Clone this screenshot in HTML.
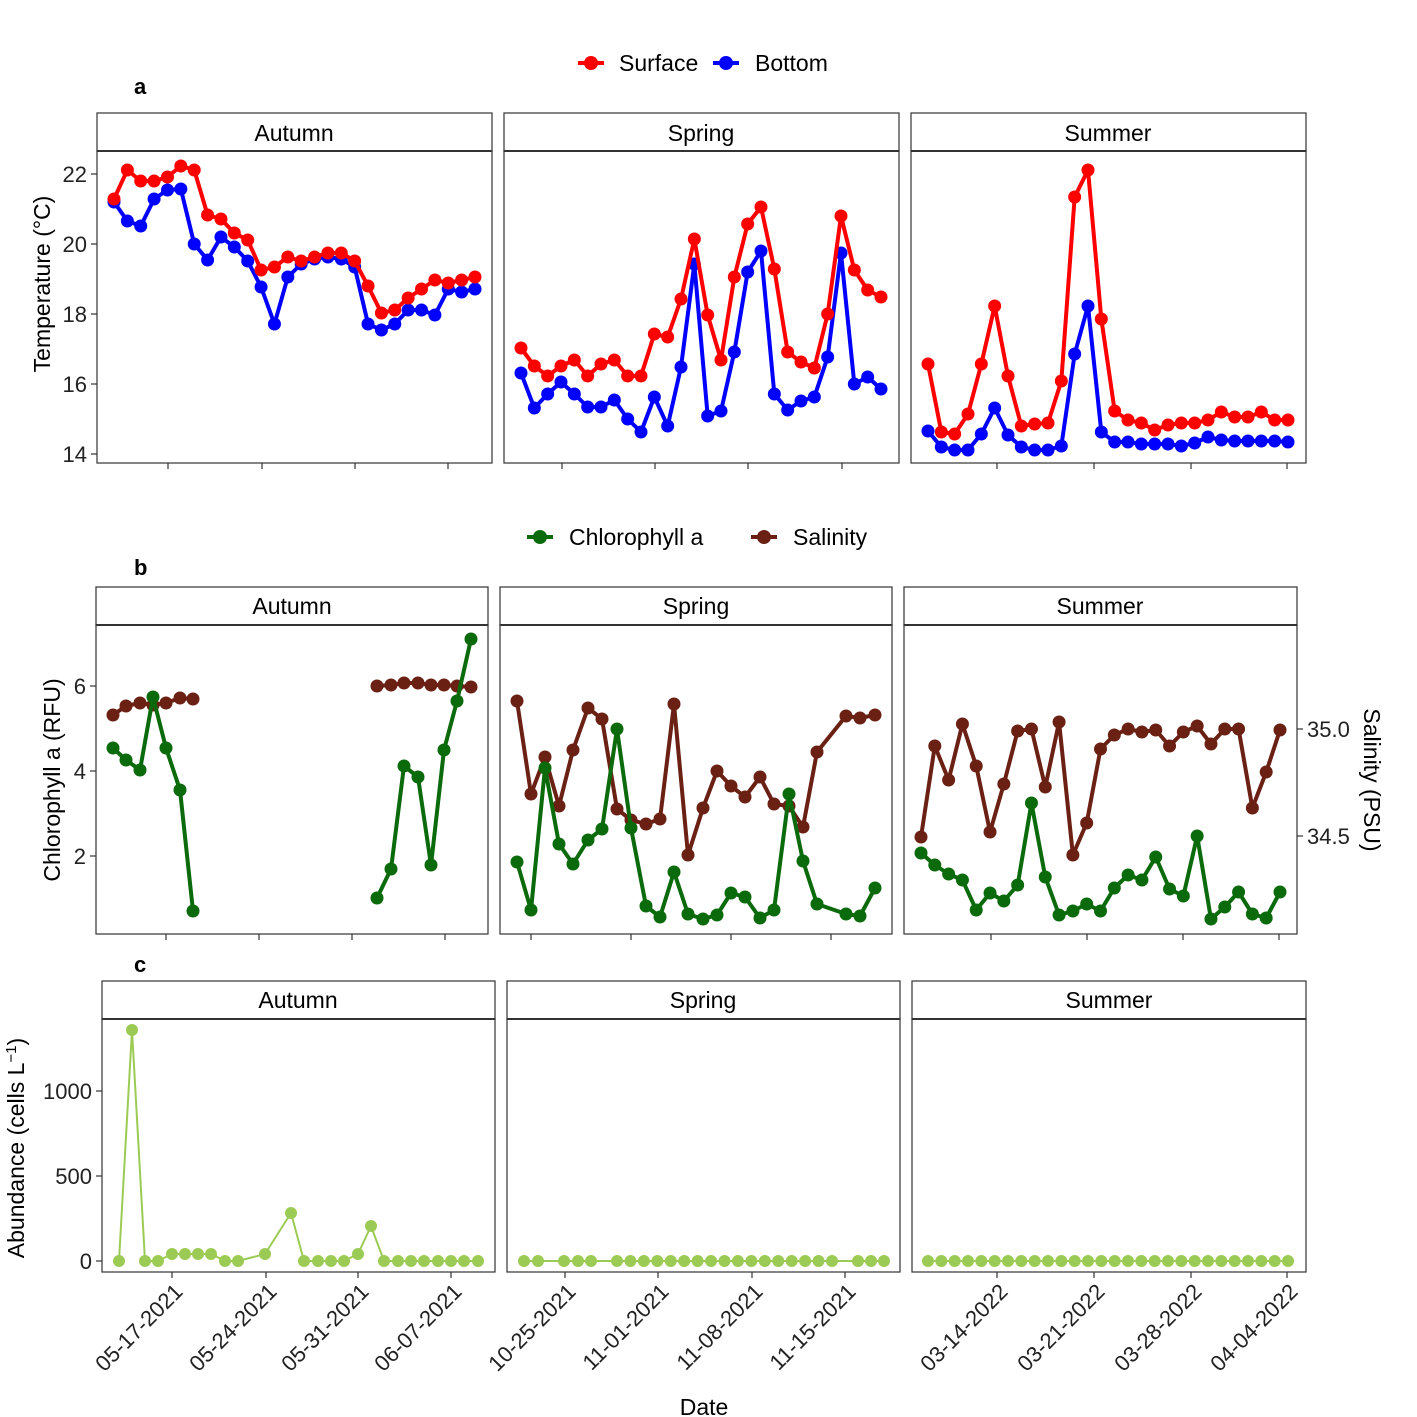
<!DOCTYPE html>
<html><head><meta charset="utf-8"><style>
html,body{margin:0;padding:0;background:#fff}
svg{display:block}
text{font-family:"Liberation Sans",Arial,sans-serif}
</style></head><body>
<svg id="s" width="1417" height="1417" viewBox="0 0 1417 1417" xmlns="http://www.w3.org/2000/svg">
<g id="frames" fill="none" stroke="#333" stroke-width="1.2"></g>
<g id="data"></g>
<g font-size="23" fill="#000">
<line x1="578" y1="63" x2="604" y2="63" stroke="red" stroke-width="4"/><circle cx="591" cy="63" r="7" fill="red"/>
<text x="619" y="71">Surface</text>
<line x1="713" y1="63" x2="739" y2="63" stroke="blue" stroke-width="4"/><circle cx="726" cy="63" r="7" fill="blue"/>
<text x="755" y="71">Bottom</text>
<line x1="527" y1="537" x2="553" y2="537" stroke="#0b6a0b" stroke-width="4"/><circle cx="540" cy="537" r="7" fill="#0b6a0b"/>
<text x="569" y="545">Chlorophyll a</text>
<line x1="751" y1="537" x2="777" y2="537" stroke="#6b2014" stroke-width="4"/><circle cx="764" cy="537" r="7" fill="#6b2014"/>
<text x="793" y="545">Salinity</text>
<text x="134" y="94" font-weight="bold" font-size="22">a</text>
<text x="134" y="575" font-weight="bold" font-size="22">b</text>
<text x="134" y="972" font-weight="bold" font-size="22">c</text>
<g text-anchor="middle">
<text x="294" y="141">Autumn</text><text x="701" y="141">Spring</text><text x="1108" y="141">Summer</text>
<text x="292" y="614">Autumn</text><text x="696" y="614">Spring</text><text x="1100" y="614">Summer</text>
<text x="298" y="1008">Autumn</text><text x="703" y="1008">Spring</text><text x="1109" y="1008">Summer</text>
</g>
<g text-anchor="end" fill="#222" font-size="22">
<text x="87" y="182">22</text><text x="87" y="252">20</text><text x="87" y="322">18</text><text x="87" y="392">16</text><text x="87" y="462">14</text>
<text x="86" y="694">6</text><text x="86" y="779">4</text><text x="86" y="864">2</text>
<text x="92" y="1099">1000</text><text x="92" y="1184">500</text><text x="92" y="1269">0</text>
</g>
<g fill="#222" font-size="22"><text x="1307" y="737">35.0</text><text x="1307" y="844">34.5</text></g>
<text transform="translate(50,284) rotate(-90)" text-anchor="middle">Temperature (°C)</text>
<text transform="translate(60,780) rotate(-90)" text-anchor="middle">Chlorophyll a (RFU)</text>
<text transform="translate(1364,780) rotate(90)" text-anchor="middle">Salinity (PSU)</text>
<text transform="translate(24,1148) rotate(-90)" text-anchor="middle">Abundance (cells L<tspan dy="-8" font-size="15">−1</tspan><tspan dy="8">)</tspan></text>
<text x="704" y="1415" text-anchor="middle">Date</text>
<g fill="#222" font-size="22" text-anchor="end">
<text transform="translate(184,1293) rotate(-45)">05-17-2021</text>
<text transform="translate(278,1293) rotate(-45)">05-24-2021</text>
<text transform="translate(370,1293) rotate(-45)">05-31-2021</text>
<text transform="translate(463,1293) rotate(-45)">06-07-2021</text>
<text transform="translate(577,1293) rotate(-45)">10-25-2021</text>
<text transform="translate(670,1293) rotate(-45)">11-01-2021</text>
<text transform="translate(764,1293) rotate(-45)">11-08-2021</text>
<text transform="translate(857,1293) rotate(-45)">11-15-2021</text>
<text transform="translate(1009,1293) rotate(-45)">03-14-2022</text>
<text transform="translate(1106,1293) rotate(-45)">03-21-2022</text>
<text transform="translate(1203,1293) rotate(-45)">03-28-2022</text>
<text transform="translate(1299,1293) rotate(-45)">04-04-2022</text>
</g>
</g>
</svg>
<script>
var NS="http://www.w3.org/2000/svg",F=document.getElementById('frames'),D=document.getElementById('data');
function el(p,t,a){var e=document.createElementNS(NS,t);for(var k in a)e.setAttribute(k,a[k]);p.appendChild(e);return e;}
function panel(x0,x1,sy0,sy1,py1,ticks){
 el(F,'rect',{x:x0,y:sy0,width:x1-x0,height:sy1-sy0,fill:'#fff'});
 el(F,'rect',{x:x0,y:sy1,width:x1-x0,height:py1-sy1});
 el(F,'line',{x1:x0,y1:sy1,x2:x1,y2:sy1,'stroke-width':2});
 ticks.forEach(function(t){el(F,'line',{x1:t,y1:py1,x2:t,y2:py1+6});});
}
panel(97,492,113,151,463,[168,262,355,448]);panel(504,899,113,151,463,[562,655,748,842]);panel(911,1306,113,151,463,[997,1094,1191,1287]);
panel(96,488,587,625,934,[166,259,352,445]);panel(500,892,587,625,934,[531,631,731,831]);panel(904,1297,587,625,934,[991,1087,1183,1279]);
panel(102,495,981,1019,1272,[172,266,358,451]);panel(507,900,981,1019,1272,[565,658,752,845]);panel(912,1306,981,1019,1272,[997,1094,1191,1287]);
[[97,[174,244,314,384,454]],[96,[686,771,856]],[102,[1091,1176,1261]]].forEach(function(a){a[1].forEach(function(y){el(F,'line',{x1:a[0]-6,y1:y,x2:a[0],y2:y});});});
[729,836].forEach(function(y){el(F,'line',{x1:1297,y1:y,x2:1303,y2:y});});
function xs(a,b,n){var r=[];for(var i=0;i<n;i++)r.push(a+(b-a)*i/(n-1));return r;}
function series(x,y,c,w,r){var p=x.map(function(v,i){return v+','+y[i];}).join(' ');
 el(D,'polyline',{points:p,fill:'none',stroke:c,'stroke-width':w,'stroke-linejoin':'round'});
 x.forEach(function(v,i){el(D,'circle',{cx:v,cy:y[i],r:r,fill:c});});}
var xa=xs(114,475,28),xsp=xs(521,881,28),xsu=xs(928,1288,28);
series(xa,[202,221,226,199,190,189,244,260,237,247,261,287,324,277,264,259,257,259,267,324,330,324,310,310,315,289,292,289],'blue',4,6.5);
series(xa,[199,170,181,181,177,166,170,215,219,233,240,270,267,257,261,257,253,253,261,286,313,310,298,289,280,283,280,277],'red',4,6.5);
series(xsp,[373,408,394,382,394,407,407,400,419,432,397,426,367,264,416,411,352,272,251,394,410,401,397,357,253,384,377,389],'blue',4,6.5);
series(xsp,[348,366,376,366,360,376,364,360,376,376,334,337,299,239,315,360,277,224,207,269,352,362,368,314,216,270,290,297],'red',4,6.5);
series(xsu,[431,447,450,450,434,408,435,447,450,450,446,354,306,432,442,442,444,444,444,446,443,437,440,441,441,441,441,442],'blue',4,6.5);
series(xsu,[364,432,434,414,364,306,376,426,424,423,381,197,170,319,411,420,423,430,425,423,423,420,412,417,417,412,420,420],'red',4,6.5);
var G='#0b6a0b',B='#6b2014';
series([113,126,140,153,166,180,193],[715,706,703,705,703,698,699],B,4,6.5);
series([377,391,404,418,431,444,457,471],[686,685,683,683,685,685,686,687],B,4,6.5);
series([113,126,140,153,166,180,193],[748,760,770,697,748,790,911],G,4,6.5);
series([377,391,404,418,431,444,457,471],[898,869,766,777,865,750,701,639],G,4,6.5);
var sx=[517,531,545,559,573,588,602,617,631,646,660,674,688,703,717,731,745,760,774,789,803,817,846,860,875];
series(sx,[701,794,757,806,750,708,719,809,820,824,819,704,855,808,771,786,797,777,804,806,827,752,716,718,715],B,4,6.5);
series(sx,[862,910,768,844,864,840,829,729,828,906,917,872,914,919,915,893,897,918,910,794,861,904,914,916,888],G,4,6.5);
var ux=xs(921,1280,27);
series(ux,[837,746,780,724,766,832,784,731,729,787,722,855,823,749,735,729,732,730,746,732,726,744,729,729,808,772,730],B,4,6.5);
series(ux,[853,865,874,880,910,893,901,885,803,877,915,911,904,911,888,875,880,857,889,896,836,919,907,892,914,918,892],G,4,6.5);
var L='#9ccb55';
var cx=[119,132,145,158,172,185,198,211,225,238,265,291,304,318,331,344,358,371,384,398,411,424,438,451,464,478];
var cy=cx.map(function(){return 1261;});cy[1]=1030;cy[4]=cy[5]=cy[6]=cy[7]=1254;cy[10]=1254;cy[11]=1213;cy[16]=1254;cy[17]=1226;
series(cx,cy,L,2,6);
var spx=[524,538,564,578,591];xs(617,832,17).forEach(function(v){spx.push(v);});spx.push(858,871,884);
series(spx,spx.map(function(){return 1261;}),L,2,6);
series(xsu,xsu.map(function(){return 1261;}),L,2,6);
</script>
</body></html>
